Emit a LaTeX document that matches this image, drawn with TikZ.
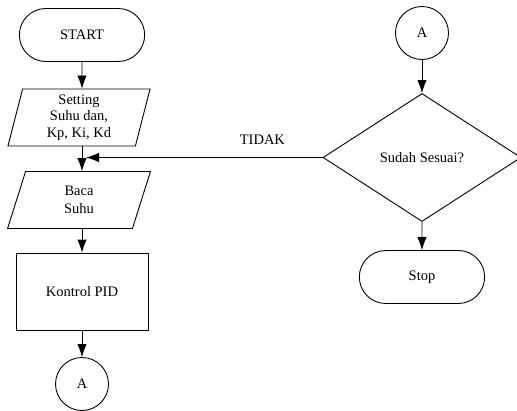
\documentclass[tikz,border=0pt]{standalone}
\usepackage{fontspec}
\setmainfont{Liberation Serif}
\usetikzlibrary{arrows.meta,shapes.geometric,shapes.misc}

\begin{document}
\begin{tikzpicture}[x=1pt,y=-1pt,->,>={Latex[length=13pt,width=9.5pt]},
      line width=0.9pt,font=\fontsize{14.5}{16.5}\selectfont,
      term/.style={rounded rectangle,draw,minimum width=132pt,minimum height=53pt},
      io/.style={trapezium,trapezium left angle=80,trapezium right angle=100,
        trapezium stretches=true,draw,minimum width=143pt,minimum height=57pt,align=center},
      proc/.style={rectangle,draw,minimum width=132pt,minimum height=77pt},
      conn/.style={circle,draw,minimum size=53pt,inner sep=0pt},
      decide/.style={diamond,draw,minimum width=198pt,minimum height=128pt,inner sep=0pt}]
      \useasboundingbox (0,0) rectangle (517,410);

      \node[term] (start) at (82, 35) { START };
      \node[io] (set) at (79, 117.5) { Setting\\Suhu dan,\\Kp, Ki, Kd };
      \node[io] (baca) at (79, 200) { Baca\\[2pt]Suhu };
      \node[proc] (pid) at (82, 291.5) { Kontrol PID };
      \node[conn] (a1) at (82, 384) { A };

      \node[conn] (a2) at (422, 33) { A };
      \node[decide] (cek) at (422, 157.5) { Sudah Sesuai? };
      \node[term] (stop) at (422, 277) { Stop };

      \coordinate (join) at (82, 157.5);

      \draw (start) -- (start |- set.north);
      \draw (start |- set.south) -- (start |- baca.north);
      \draw (start |- baca.south) -- (pid);
      \draw (pid) -- (a1);

      \draw (a2) -- (cek);
      \draw (cek) -- (stop);
      \draw[shorten >=4pt] (cek.west) -- node[pos=0.25,above=9pt] { TIDAK } (join);
\end{tikzpicture}
\end{document}
